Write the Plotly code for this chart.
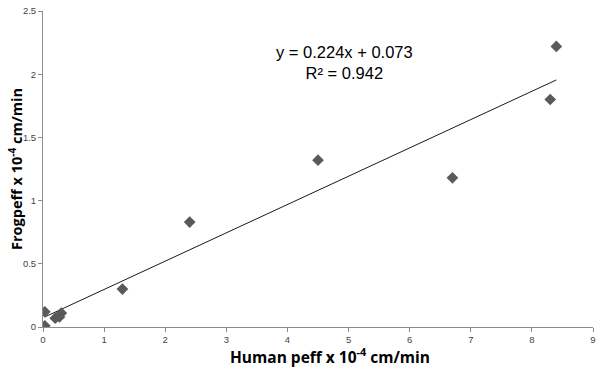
import plotly.graph_objects as go

human_peff = [0.03, 0.03, 0.20, 0.27, 0.30, 1.30, 2.40, 4.50, 6.70, 8.30, 8.40]
frog_peff = [0.12, 0.01, 0.07, 0.08, 0.11, 0.30, 0.83, 1.32, 1.18, 1.80, 2.22]
slope = 0.224
intercept = 0.073
eq_text = "y = 0.224x + 0.073<br>R² = 0.942"
x_title = "<b>Human peff x 10<sup>-4</sup> cm/min</b>"
y_title = "<b>Frogpeff x 10<sup>-4</sup> cm/min</b>"

x_line = [min(human_peff), max(human_peff)]
y_line = [slope * v + intercept for v in x_line]

fig = go.Figure()
fig.add_trace(go.Scatter(x=x_line, y=y_line, mode="lines",
                         line=dict(color="#1a1a1a", width=1), hoverinfo="skip"))
fig.add_trace(go.Scatter(x=human_peff, y=frog_peff, mode="markers",
                         marker=dict(symbol="diamond", size=9, color="#5a5a5a")))

axis_common = dict(showgrid=False, zeroline=False, showline=True,
                   linecolor="#8c8c8c", linewidth=1, ticks="outside",
                   tickcolor="#8c8c8c", ticklen=4, automargin=False,
                   ticklabeloverflow="allow",
                   tickfont=dict(family="Liberation Sans", size=9.5, color="#444444"))

fig.update_layout(
    width=600, height=378,
    margin=dict(l=43, r=7, t=11, b=51),
    paper_bgcolor="white", plot_bgcolor="white",
    showlegend=False,
    xaxis=dict(range=[0, 9], dtick=1, **axis_common),
    yaxis=dict(range=[0, 2.5], dtick=0.5, **axis_common),
    annotations=[
        dict(text=eq_text, x=4.94, y=2.09, xref="x", yref="y",
             showarrow=False, align="center",
             font=dict(family="Liberation Sans", size=16.5, color="#000000")),
        dict(text=x_title, x=0.522, y=-0.092, xref="paper", yref="paper",
             showarrow=False, xanchor="center", yanchor="middle",
             font=dict(family="Open Sans", size=15.5, color="#000000")),
        dict(text=y_title, x=-0.051, y=0.5, xref="paper", yref="paper",
             showarrow=False, xanchor="center", yanchor="middle", textangle=-90,
             font=dict(family="Open Sans", size=14.5, color="#000000")),
    ],
)

# remove the page's default 8px body margin so the figure sits at the window's corner
fig.write_html("out.html", config={"displayModeBar": False},
               post_script="document.body.style.margin='0';document.body.style.overflow='hidden';")
